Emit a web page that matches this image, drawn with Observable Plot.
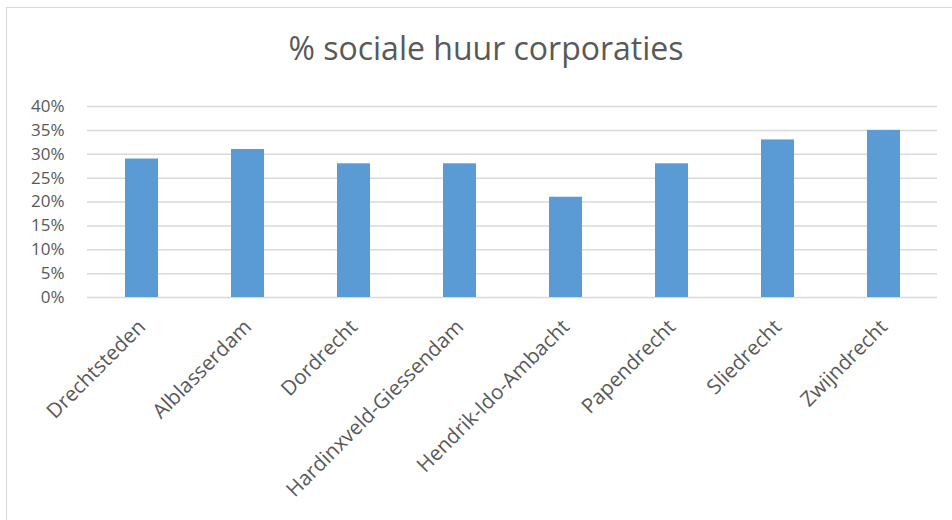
<!DOCTYPE html>
<html>
<head>
<meta charset="utf-8">
<script src="https://cdn.jsdelivr.net/npm/d3@7"></script>
<script src="https://cdn.jsdelivr.net/npm/@observablehq/plot@0.6"></script>
<style>
  html, body { margin: 0; padding: 0; background: #fff; }
  #wrap { position: relative; width: 952px; height: 520px; overflow: hidden; font-family: "Open Sans", sans-serif; }
  #frame { position: absolute; left: 6px; top: 7px; width: 960px; height: 530px; border: 1.5px solid #d9d9d9; box-sizing: border-box; }
  #title { position: absolute; left: 0; width: 972px; top: 29px; text-align: center; font-size: 32px; color: #595959; line-height: 1.2; }
  #chart { position: absolute; left: 0; top: 0; }
</style>
</head>
<body>
<div id="wrap">
  <div id="frame"></div>
  <div id="title">% sociale huur corporaties</div>
  <div id="chart"></div>
</div>
<script>
const categories = ["Drechtsteden", "Alblasserdam", "Dordrecht", "Hardinxveld-Giessendam", "Hendrik-Ido-Ambacht", "Papendrecht", "Sliedrecht", "Zwijndrecht"];
const values = [0.29, 0.31, 0.28, 0.28, 0.21, 0.28, 0.33, 0.35];
const yTicks = [0, 0.05, 0.10, 0.15, 0.20, 0.25, 0.30, 0.35, 0.40];

const data = categories.map((c, i) => ({ gemeente: c, waarde: values[i] }));

const chart = Plot.plot({
  width: 952,
  height: 520,
  marginLeft: 87,
  marginRight: 15,
  marginTop: 106,
  marginBottom: 223,
  style: { fontFamily: "Open Sans, sans-serif", color: "#595959", background: "transparent" },
  x: { domain: categories, paddingInner: 0.69, paddingOuter: 0.345, label: null },
  y: { domain: [0, 0.4], label: null },
  marks: [
    Plot.gridY(yTicks, { stroke: "#d9d9d9", strokeOpacity: 1, strokeWidth: 1.5 }),
    Plot.barY(data, { x: "gemeente", y: "waarde", fill: "#5b9bd5" }),
    Plot.axisY(yTicks, { tickFormat: d3.format(".0%"), tickSize: 0, tickPadding: 23, fontSize: 17, label: null }),
    Plot.axisX({ tickRotate: -45, tickSize: 0, tickPadding: 26, fontSize: 20.5, label: null })
  ]
});
document.getElementById("chart").appendChild(chart);
</script>
</body>
</html>
